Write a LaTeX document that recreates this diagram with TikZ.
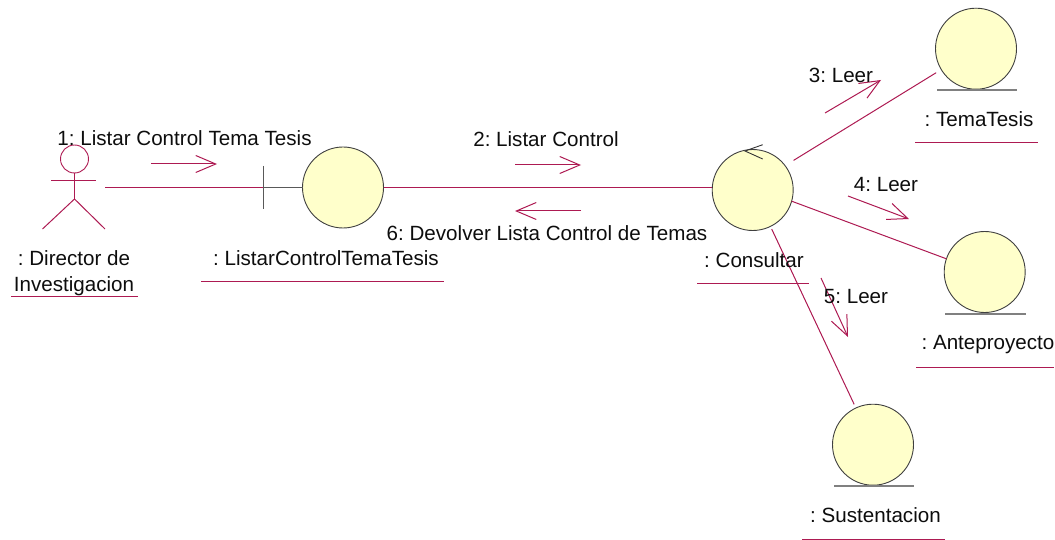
\documentclass[tikz,border=0pt]{standalone}
\usepackage{fontspec}
\setmainfont{Liberation Sans}
\usetikzlibrary{arrows.meta}
\definecolor{linkred}{HTML}{AD1A52}
\definecolor{robustfill}{HTML}{FFFFCB}
\definecolor{basegray}{HTML}{808080}
\frenchspacing
\tikzset{
	robust/.style={draw=black!75, fill=robustfill, circle, line width=0.9pt, inner sep=0, outer sep=0, minimum size=81pt},
	base/.style={line width=1.4pt, color=basegray},
	link/.style={line width=1pt, color=linkred},
	msg/.style={line width=1pt, color=linkred, -{Straight Barb[length=20pt,width=17pt,line width=1pt]}},
	under/.style={line width=1pt, color=linkred},
	lbl/.style={font=\fontsize{20.6}{26}\selectfont, inner sep=0, align=center, text=black!95}
}

\begin{document}
\begin{tikzpicture}[x=1pt, y=-1pt]
			%%%%% START %%%%%
			\useasboundingbox (0, 0) rectangle (1055, 540);
			
			% objects
			\node[robust] (listar) at (343, 187.5) {};
			\node[robust] (consultar) at (752.7, 190) {};
			\node[robust] (tema) at (976, 48.7) {};
			\node[robust] (ante) at (984.7, 272) {};
			\node[robust] (sust) at (873, 444.7) {};
			
			\draw[base] (937, 90) -- (1017, 90);
			\draw[base] (945, 314) -- (1026, 314);
			\draw[base] (834, 486) -- (914, 486);
			
			% control mark
			\draw[line width=0.9pt, color=black!80] (762.7, 144.7) -- (745, 151) -- (762.7, 159);
			
			% boundary mark
			\coordinate (barTop) at (263, 166);
			\coordinate (barMid) at (263, 187.5);
			\coordinate (barBot) at (263, 209);
			\draw[line width=1pt, color=black!65] (barTop) -- (barBot);
			\draw[line width=1pt, color=black!65] (barMid) -- (listar.west);
			
			% actor
			\node[draw=linkred, circle, line width=0.9pt, inner sep=0, minimum size=28pt] (head) at (74.5, 159) {};
			\coordinate (hip) at (74.5, 199);
			\coordinate (armL) at (51, 180.5);
			\coordinate (armR) at (96, 180.5);
			\coordinate (legL) at (42.5, 229);
			\coordinate (legR) at (105, 229);
			\coordinate (actorEnd) at (105, 187.5);
			\draw[link] (head.south) -- (hip);
			\draw[link] (armL) -- (armR);
			\draw[link] (legL) -- (hip) -- (legR);
			
			% links
			\draw[link] (actorEnd) -- (barMid);
			\draw[link] (listar.east) -- (consultar.west |- listar.east);
			\draw[link, shorten <=10pt, shorten >=6pt] (consultar.37) -- (tema.211);
			\draw[link] (consultar.-16) -- (ante.161);
			\draw[link, shorten <=3pt, shorten >=4pt] (consultar.-64) -- (sust.115);
			
			% messages
			\coordinate (m1a) at (151, 164);
			\coordinate (m1b) at (217, 164);
			\coordinate (m2a) at (515, 165);
			\coordinate (m2b) at (581, 165);
			\coordinate (m6a) at (581, 211);
			\coordinate (m6b) at (515, 211);
			\coordinate (m3a) at (825, 113);
			\coordinate (m3b) at (881, 80);
			\coordinate (m4a) at (848, 196);
			\coordinate (m4b) at (909, 219);
			\coordinate (m5a) at (821, 278);
			\coordinate (m5b) at (848, 337);
			\draw[msg] (m1a) -- (m1b);
			\draw[msg] (m2a) -- (m2b);
			\draw[msg] (m6a) -- (m6b);
			\draw[msg] (m3a) -- (m3b);
			\draw[msg] (m4a) -- (m4b);
			\draw[msg] (m5a) -- (m5b);
			
			\node[lbl] (m1) at (184.5, 138) {1: Listar Control Tema Tesis};
			\node[lbl] (m2) at (546, 139) {2: Listar Control};
			\node[lbl] (m6) at (547, 233) {6: Devolver Lista Control de Temas};
			\node[lbl] (m3) at (841, 75) {3: Leer};
			\node[lbl] (m4) at (886, 184.5) {4: Leer};
			\node[lbl] (m5) at (856, 296.5) {5: Leer};
			
			% object names
			\node[lbl] (directorName) at (74, 273.5) {: Director de\\Investigacion};
			\node[lbl] (listarName) at (326, 258) {: ListarControlTemaTesis};
			\node[lbl] (consultarName) at (754, 260) {: Consultar};
			\node[lbl] (temaName) at (979, 119.5) {: TemaTesis};
			\node[lbl] (anteName) at (988, 344.5) {: Anteproyecto};
			\node[lbl] (sustName) at (875.5, 515.5) {: Sustentacion};
			
			\draw[under] (11, 296) -- (138, 296);
			\draw[under] (201, 281) -- (444, 281);
			\draw[under] (697, 283) -- (809, 283);
			\draw[under] (915, 143) -- (1038, 143);
			\draw[under] (916, 367) -- (1054, 367);
			\draw[under] (802, 539) -- (945, 539);
			
			%%%%% END %%%%%
\end{tikzpicture}
\end{document}
